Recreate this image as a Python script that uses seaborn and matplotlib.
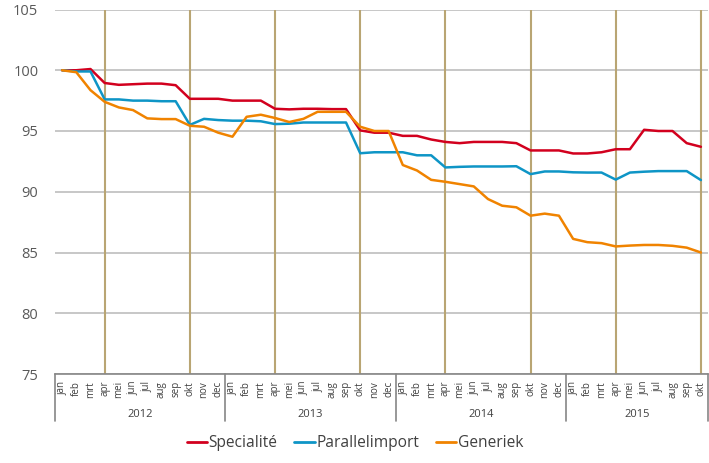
import numpy as np
import pandas as pd
import matplotlib
matplotlib.use('Agg')
import matplotlib.pyplot as plt
import matplotlib.transforms as mtransforms
import seaborn as sns

# months jan 2012 .. okt 2015
month_names = ['jan', 'feb', 'mrt', 'apr', 'mei', 'jun', 'jul', 'aug', 'sep', 'okt', 'nov', 'dec']
years = ['2012', '2013', '2014', '2015']
months_per_year = [12, 12, 12, 10]

specialite = [100.0, 100.0, 100.1, 98.95, 98.8, 98.85, 98.9, 98.9, 98.77, 97.65, 97.65, 97.65,
              97.5, 97.5, 97.5, 96.83, 96.78, 96.83, 96.83, 96.8, 96.8, 95.05, 94.86, 94.86,
              94.6, 94.6, 94.3, 94.1, 94.0, 94.1, 94.1, 94.1, 94.0, 93.4, 93.4, 93.4,
              93.15, 93.15, 93.25, 93.5, 93.5, 95.1, 95.0, 95.0, 94.0, 93.7]

parallelimport = [100.0, 99.9, 99.9, 97.6, 97.6, 97.5, 97.5, 97.45, 97.45, 95.5, 96.0, 95.9,
                  95.85, 95.85, 95.8, 95.57, 95.6, 95.7, 95.7, 95.7, 95.7, 93.17, 93.25, 93.25,
                  93.25, 93.0, 93.0, 92.0, 92.05, 92.08, 92.08, 92.08, 92.1, 91.45, 91.67, 91.67,
                  91.6, 91.58, 91.58, 91.0, 91.58, 91.65, 91.7, 91.7, 91.7, 90.96]

generiek = [100.0, 99.84, 98.36, 97.4, 96.94, 96.72, 96.04, 95.98, 95.98, 95.43, 95.35, 94.86,
            94.53, 96.17, 96.34, 96.07, 95.74, 96.0, 96.58, 96.58, 96.58, 95.35, 95.0, 95.0,
            92.2, 91.75, 90.98, 90.82, 90.63, 90.44, 89.4, 88.85, 88.72, 88.03, 88.2, 88.03,
            86.12, 85.85, 85.77, 85.5, 85.57, 85.62, 85.62, 85.55, 85.4, 85.0]

series_names = ['Specialité', 'Parallelimport', 'Generiek']
colors = ['#D2001E', '#0E95C6', '#F08300']

month_labels = []
for n in months_per_year:
    month_labels += month_names[:n]
n_months = len(month_labels)
idx = np.arange(n_months)

df = pd.DataFrame({
    'idx': np.tile(idx, 3),
    'value': specialite + parallelimport + generiek,
    'serie': np.repeat(series_names, n_months),
})

sns.set_style('white')
plt.rcParams['font.family'] = ['Open Sans', 'DejaVu Sans']

fig = plt.figure(figsize=(7.09, 4.63), dpi=100)
ax = fig.add_axes([55 / 709, 1 - 374 / 463, 653 / 709, 364.5 / 463])

# vertical marker lines at apr and okt
for i, m in enumerate(month_labels):
    if m in ('apr', 'okt'):
        ax.axvline(i, color='#B9A573', lw=1.5, zorder=1)

sns.lineplot(data=df, x='idx', y='value', hue='serie', palette=colors,
             hue_order=series_names, linewidth=1.8, ax=ax, legend=False, zorder=3)

ax.set_xlim(-0.5, n_months - 0.5)
ax.set_ylim(75, 105)
ax.set_yticks(np.arange(75, 106, 5))
ax.yaxis.grid(True, color='#BEBEBE', lw=1.2)
ax.set_axisbelow(True)
ax.set_xlabel('')
ax.set_ylabel('')

for s in ['left', 'right', 'top']:
    ax.spines[s].set_visible(False)
ax.spines['bottom'].set_color('#868686')
ax.spines['bottom'].set_linewidth(1.2)

ax.tick_params(axis='y', length=0, pad=12, labelsize=10.5, labelcolor='#595959')
ax.set_xticks(idx)
ax.set_xticklabels(month_labels, rotation=90, fontsize=7, color='#404040')
ax.tick_params(axis='x', which='major', length=0, pad=5)
ax.set_xticks(np.arange(-0.5, n_months, 1), minor=True)
ax.tick_params(axis='x', which='minor', direction='in', length=3, color='#868686', width=1)

# year grouping below the month labels
trans = mtransforms.blended_transform_factory(ax.transData, ax.transAxes)
start = 0
for y, n in zip(years, months_per_year):
    ax.plot([start - 0.5, start - 0.5], [0, -0.13], transform=trans, color='#868686',
            lw=1.2, clip_on=False)
    ax.text(start + (n - 1) / 2, -0.11, y, transform=trans, ha='center', va='center',
            fontsize=8, color='#404040')
    start += n
ax.plot([start - 0.5, start - 0.5], [0, -0.13], transform=trans, color='#868686',
        lw=1.2, clip_on=False)

handles = [plt.Line2D([], [], color=c, lw=2) for c in colors]
fig.legend(handles, series_names, loc='center', bbox_to_anchor=(355 / 709, 1 - 443 / 463),
           ncol=3, frameon=False, fontsize=11.2, handlelength=1.3, handletextpad=0.1,
           columnspacing=1.1, labelcolor='#404040')

fig.savefig('out.png', dpi=100)
